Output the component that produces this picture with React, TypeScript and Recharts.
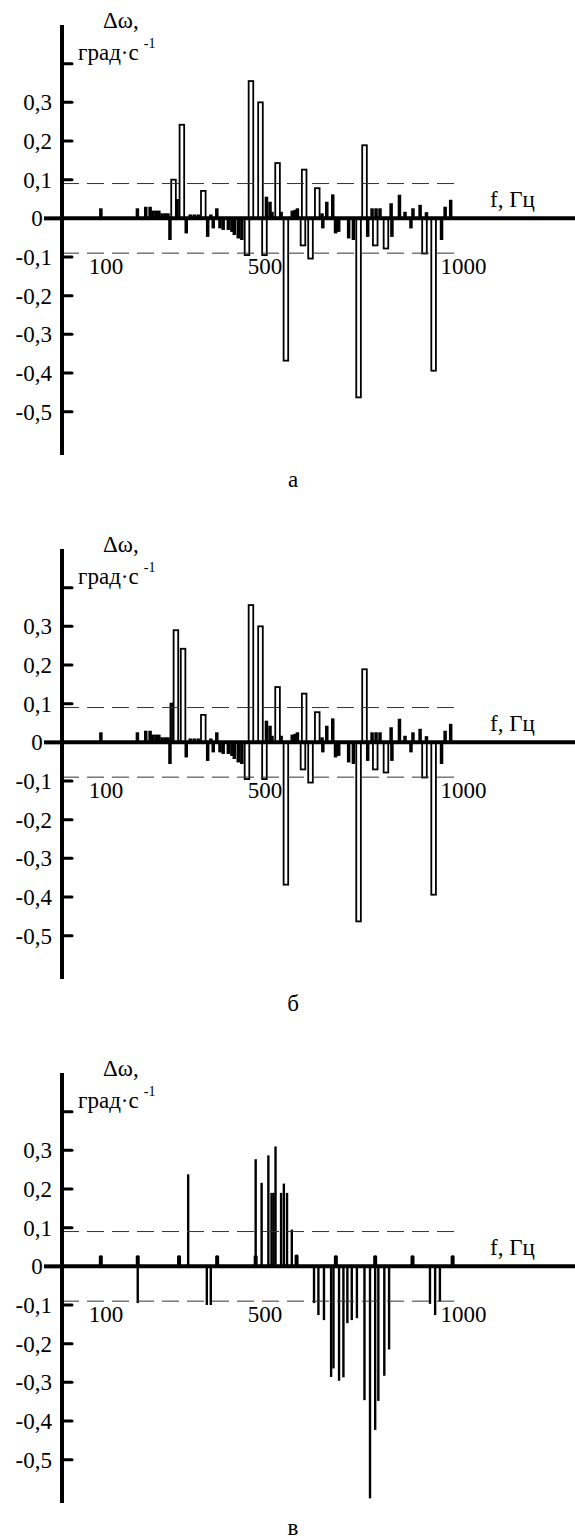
import React from 'react';
import { ComposedChart, Bar, XAxis, YAxis, ReferenceLine } from 'recharts';

const F_DOMAIN: [number, number] = [-11, 1281];
const V_DOMAIN: [number, number] = [-0.612, 0.5];
const Y_TICKS = [0.4, 0.3, 0.2, 0.1, 0, -0.1, -0.2, -0.3, -0.4, -0.5];
const X_TICKS = [100, 500, 1000];
const THRESHOLD = 0.09;
const DASH_END = 979;
const PANEL_LETTERS = ['а', 'б', 'в'];

// panel а
const freqA = [87, 179, 200, 211, 218, 226, 233, 241, 249, 256, 261, 270, 279, 291, 302, 312, 322, 332, 345, 356, 364, 370, 379, 387, 395, 408, 417, 423, 433, 442, 455, 465, 489, 499, 504, 513, 518, 532, 541, 553, 569, 576, 582, 596, 599, 615, 632, 644, 646, 656, 671, 678, 686, 711, 723, 736, 751, 759, 770, 778, 780, 790, 805, 818, 820, 839, 853, 868, 873, 891, 902, 907, 925, 945, 954, 968];
const valA = [0.026, 0.026, 0.03, 0.03, 0.02, 0.02, 0.02, 0.013, 0.013, 0.013, -0.056, 0.1, 0.05, 0.242, -0.039, 0.01, 0.01, 0.01, 0.071, -0.048, 0.01, -0.026, 0.026, -0.026, -0.03, -0.03, -0.035, -0.043, -0.052, -0.056, -0.095, 0.355, 0.3, -0.095, 0.056, 0.043, 0.017, 0.143, 0.017, -0.368, 0.02, 0.022, 0.026, -0.07, 0.126, -0.104, 0.078, 0.013, -0.026, 0.043, 0.062, -0.039, -0.035, -0.052, -0.056, -0.463, 0.189, -0.048, 0.026, -0.07, 0.026, 0.026, -0.078, 0.039, -0.048, 0.061, 0.017, -0.026, 0.026, 0.035, -0.091, 0.016, -0.394, -0.056, 0.03, 0.048];

// panel б
const freqB = [87, 179, 200, 211, 218, 226, 233, 241, 249, 256, 261, 268, 272, 276, 294, 302, 312, 322, 332, 345, 356, 364, 370, 379, 387, 395, 408, 417, 423, 433, 442, 455, 465, 489, 499, 504, 513, 518, 532, 541, 553, 569, 576, 582, 596, 599, 615, 632, 644, 646, 656, 671, 678, 686, 711, 723, 736, 751, 759, 770, 778, 780, 790, 805, 818, 820, 839, 853, 868, 873, 891, 902, 907, 925, 945, 954, 968];
const valB = [0.026, 0.026, 0.03, 0.03, 0.02, 0.02, 0.02, 0.013, 0.013, 0.013, -0.056, 0.1, 0.1, 0.29, 0.242, -0.039, 0.01, 0.01, 0.01, 0.071, -0.048, 0.01, -0.026, 0.026, -0.026, -0.03, -0.03, -0.035, -0.043, -0.052, -0.056, -0.095, 0.355, 0.3, -0.095, 0.056, 0.043, 0.017, 0.143, 0.017, -0.368, 0.02, 0.022, 0.026, -0.07, 0.126, -0.104, 0.078, 0.013, -0.026, 0.043, 0.062, -0.039, -0.035, -0.052, -0.056, -0.463, 0.189, -0.048, 0.026, -0.07, 0.026, 0.026, -0.078, 0.039, -0.048, 0.061, 0.017, -0.026, 0.026, 0.035, -0.091, 0.016, -0.394, -0.056, 0.03, 0.048];

// panel в
const freqC = [87, 180, 180, 284, 307, 354, 364, 380, 477, 477, 492, 509, 517, 522, 527, 541, 548, 556, 568, 580, 624, 635, 649, 667, 673, 679, 687, 698, 708, 719, 732, 751, 765, 778, 778, 786, 801, 813, 872, 916, 929, 941, 973];
const valC = [0.026, 0.026, -0.095, 0.026, 0.238, -0.1, -0.1, 0.026, 0.277, 0.026, 0.216, 0.287, 0.19, 0.19, 0.31, 0.19, 0.214, 0.19, 0.095, 0.028, -0.095, -0.126, -0.139, -0.286, -0.264, 0.026, -0.296, -0.287, -0.147, -0.139, -0.134, -0.346, -0.6, -0.423, 0.026, -0.348, -0.283, -0.215, 0.026, -0.097, -0.126, -0.091, 0.026];

const FONT = '"Liberation Serif", "DejaVu Serif", "Times New Roman", serif';
const TXT: React.CSSProperties = { fontFamily: FONT, fontSize: 23, fill: '#000' };

const YTick = (props: any) => {
  const { y, payload } = props;
  const v = payload.value as number;
  const isZero = Math.abs(v) < 1e-9;
  const isTop = Math.abs(v - 0.4) < 1e-9;
  const label = isZero ? '0' : v.toFixed(1).replace('.', ',');
  return (
    <g>
      {isZero ? (
        <line x1={44} x2={62} y1={y} y2={y} stroke="#000" strokeWidth={4} />
      ) : (
        <line x1={62} x2={72} y1={y} y2={y} stroke="#000" strokeWidth={3} strokeLinecap="round" />
      )}
      {!isTop && (
        <text
          x={isZero ? 37 : 52}
          y={y}
          dy="0.35em"
          textAnchor={isZero ? 'middle' : 'end'}
          style={TXT}
        >
          {label}
        </text>
      )}
    </g>
  );
};

const XTick = (props: any) => {
  const { x, payload } = props;
  return (
    <text x={x} y={274} textAnchor="middle" style={TXT}>
      {payload.value}
    </text>
  );
};

const OutlineBar = (props: any) => {
  const { x, y, width, height } = props;
  if (x == null || y == null) return <g />;
  const top = Math.min(y, y + height);
  const h = Math.abs(height);
  const cx = x + width / 2;
  if (h >= 25) {
    return <rect x={cx - 2.3} y={top} width={4.6} height={h} fill="#fff" stroke="#000" strokeWidth={1.8} />;
  }
  return <rect x={cx - 1.75} y={top} width={3.5} height={h} fill="#000" />;
};

const LineBar = (props: any) => {
  const { x, y, width, height } = props;
  if (x == null || y == null) return <g />;
  const top = Math.min(y, y + height);
  const h = Math.abs(height);
  const cx = x + width / 2;
  if (h >= 15) {
    return <rect x={cx - 1.2} y={top} width={2.4} height={h} fill="#000" />;
  }
  return <rect x={cx - 2} y={top - 1} width={4} height={h + 1} rx={1.5} fill="#000" />;
};

function Panel({ freq, val, shape, letter, top }: any) {
  const data = freq.map((f: number, i: number) => ({ f, v: val[i] }));
  return (
    <div style={{ position: 'absolute', left: 0, top, width: 575, height: 524 }}>
      <ComposedChart width={575} height={470} data={data} margin={{ top: 25, right: 0, bottom: 0, left: 0 }}>
        <XAxis
          type="number"
          dataKey="f"
          domain={F_DOMAIN}
          ticks={X_TICKS}
          interval={0}
          axisLine={false}
          tickLine={false}
          tick={(p: any) => <XTick {...p} />}
          height={15}
          allowDataOverflow
        />
        <YAxis
          type="number"
          domain={V_DOMAIN}
          ticks={Y_TICKS}
          interval={0}
          width={62}
          axisLine={{ stroke: '#000', strokeWidth: 4 }}
          tickLine={false}
          tick={(p: any) => <YTick {...p} />}
          allowDataOverflow
        />
        <ReferenceLine
          segment={[{ x: F_DOMAIN[0], y: THRESHOLD }, { x: DASH_END, y: THRESHOLD }]}
          stroke="#333"
          strokeWidth={1}
          strokeDasharray="17 8"
        />
        <ReferenceLine
          segment={[{ x: F_DOMAIN[0], y: -THRESHOLD }, { x: DASH_END, y: -THRESHOLD }]}
          stroke="#333"
          strokeWidth={1}
          strokeDasharray="17 8"
        />
        <ReferenceLine y={0} stroke="#000" strokeWidth={4} />
        <Bar dataKey="v" barSize={5} shape={shape} isAnimationActive={false} />
      </ComposedChart>
      <svg
        width={575}
        height={524}
        style={{ position: 'absolute', left: 0, top: 0, pointerEvents: 'none', fontFamily: FONT }}
      >
        <text x={103} y={28} style={TXT}>Δω,</text>
        <text x={78} y={60} style={TXT}>
          град·с
          <tspan dx={5} dy={-12} style={{ fontSize: 14 }}>-1</tspan>
        </text>
        <text x={490} y={207} style={TXT}>f, Гц</text>
        <text x={293} y={487} textAnchor="middle" style={TXT}>{letter}</text>
      </svg>
    </div>
  );
}

export default function App() {
  return (
    <div style={{ position: 'absolute', left: 0, top: 0, width: 575, height: 1540, background: '#fff', fontFamily: FONT }}>
      <Panel freq={freqA} val={valA} shape={OutlineBar} letter={PANEL_LETTERS[0]} top={0} />
      <Panel freq={freqB} val={valB} shape={OutlineBar} letter={PANEL_LETTERS[1]} top={524} />
      <Panel freq={freqC} val={valC} shape={LineBar} letter={PANEL_LETTERS[2]} top={1048} />
    </div>
  );
}
